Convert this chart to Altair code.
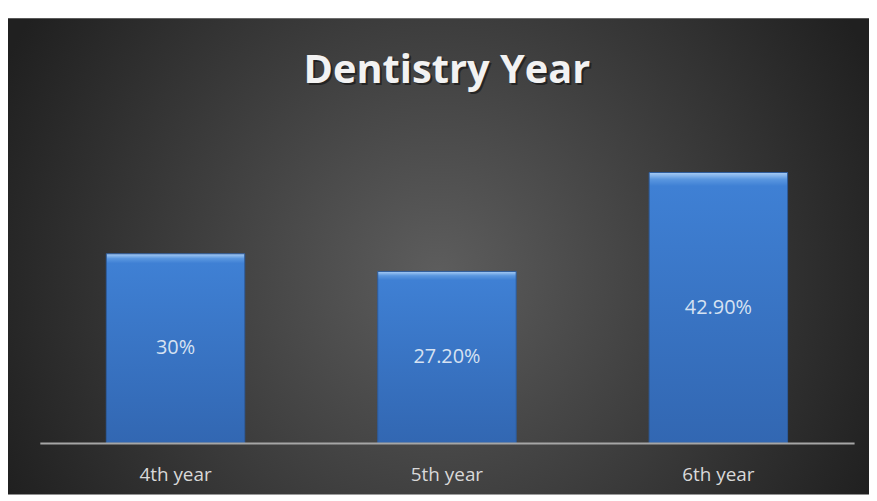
import altair as alt
import pandas as pd

categories = ["4th year", "5th year", "6th year"]
values = [30, 27.2, 42.9]
value_labels = ["30%", "27.20%", "42.90%"]
title_text = ["Dentistry Year"]

df = pd.DataFrame({"year": categories, "value": values, "label": value_labels})

W, H = 819, 317
PAD_L, PAD_T, PAD_R, PAD_B = 32, 119, 15, 52

x_scale = alt.Scale(domain=categories, paddingInner=0.49, paddingOuter=0.245)
y_scale = alt.Scale(domain=[0, 50])

bg_grad = alt.RadialGradient(
    gradient="radial",
    stops=[alt.GradientStop(offset=0, color="#5d5d5d"),
           alt.GradientStop(offset=1, color="#202020")],
    x1=0.5, y1=0.52, x2=0.5, y2=0.52, r1=0, r2=0.56,
)

background = alt.Chart(alt.Data(values=[{"a": 1}])).mark_rect(color=bg_grad).encode(
    x=alt.value(-PAD_L), x2=alt.value(W + PAD_R),
    y=alt.value(-PAD_T + 9), y2=alt.value(H + PAD_B),
)

bar_grad = alt.LinearGradient(
    gradient="linear",
    stops=[alt.GradientStop(offset=0, color="#a9cdf5"),
           alt.GradientStop(offset=0.025, color="#5a97e0"),
           alt.GradientStop(offset=0.05, color="#3f80d4"),
           alt.GradientStop(offset=1, color="#3267b2")],
    x1=0, x2=0, y1=0, y2=1,
)

base = alt.Chart(df)

bars = base.mark_bar(color=bar_grad, stroke="#2d5c9c", strokeWidth=1).encode(
    x=alt.X("year:N", scale=x_scale, sort=categories,
            axis=alt.Axis(title=None, ticks=False, grid=False,
                          domainColor="#a6a6a6", domainWidth=2,
                          labelColor="#d9d9d9", labelFontSize=19,
                          labelFont="Open Sans", labelPadding=23,
                          labelAngle=0, zindex=1)),
    y=alt.Y("value:Q", scale=y_scale, axis=None),
)

labels = base.transform_calculate(mid="datum.value / 2").mark_text(
    color="#d6e2f2", fontSize=20, font="Open Sans", baseline="middle"
).encode(
    x=alt.X("year:N", scale=x_scale, sort=categories),
    y=alt.Y("mid:Q", scale=y_scale),
    text="label:N",
)

tdf = pd.DataFrame({"t": title_text})
title_shadow = alt.Chart(tdf).mark_text(
    color="#111111", fontSize=40, font="Open Sans", fontWeight="bold",
    baseline="alphabetic", align="center", dx=2, dy=2, opacity=0.6
).encode(x=alt.value(W / 2), y=alt.value(-45), text="t:N")
title = alt.Chart(tdf).mark_text(
    color="#f2f2f2", fontSize=40, font="Open Sans", fontWeight="bold",
    baseline="alphabetic", align="center"
).encode(x=alt.value(W / 2), y=alt.value(-45), text="t:N")

chart = alt.layer(background, bars, labels, title_shadow, title).properties(
    width=W, height=H,
    autosize=alt.AutoSizeParams(type="none"),
    padding={"left": PAD_L, "top": PAD_T, "right": PAD_R, "bottom": PAD_B},
    background="white",
).configure_view(stroke=None)

chart.save("out.html", embed_options={"renderer": "svg", "actions": False})
